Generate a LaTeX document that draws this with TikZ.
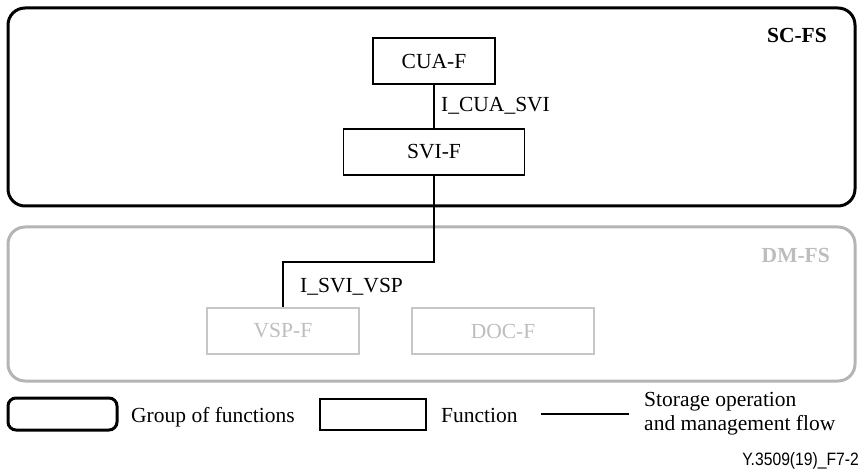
\documentclass[tikz,border=0pt]{standalone}
\usepackage{fontspec}
\setmainfont{Liberation Serif}
\newfontfamily\labelsans{Liberation Sans}
\definecolor{groupgrey}{HTML}{B4B4B4}
\definecolor{boxgrey}{HTML}{C6C6C6}
\definecolor{textgrey}{HTML}{BDBDBD}
\begin{document}
\begin{tikzpicture}[x=1pt,y=-1pt,
  every node/.style={font=\fontsize{21.5}{24}\selectfont, inner sep=0pt},
  group/.style={draw, line width=3pt, rounded corners=17pt},
  funcbox/.style={draw, line width=1.3pt},
  flow/.style={draw, line width=1.5pt},
  glabel/.style={font=\fontsize{21.5}{24}\selectfont\bfseries}
]
\useasboundingbox (0,0) rectangle (862,470);

% functional groups
\node[group, minimum width=847pt, minimum height=198pt] (sc) at (431.5,107) {};
\node[group, draw=groupgrey, minimum width=847pt, minimum height=154pt] (dm) at (431.5,304) {};
\node[glabel, anchor=base east] (sclabel) at (827,43) {SC-FS};
\node[glabel, text=textgrey, anchor=base east] (dmlabel) at (830,263) {DM-FS};

% functions
\node[funcbox, minimum width=122pt, minimum height=46pt] (cua) at (434,61) {CUA-F};
\node[funcbox, minimum width=181pt, minimum height=46pt] (svi) at (434,152) {SVI-F};
\node[funcbox, draw=boxgrey, text=textgrey, minimum width=152pt, minimum height=46pt] (vsp) at (283,331) {VSP-F};
\node[funcbox, draw=boxgrey, text=textgrey, minimum width=182pt, minimum height=46pt] (doc) at (503,331) {DOC-F};

% reference points
\coordinate (bend) at (283,262);
\draw[flow] (cua.south) -- (svi.north);
\draw[flow] (svi.south) |- (bend) -| (vsp.north);
\node[anchor=base west] (ifa) at (441,112) {I\_CUA\_SVI};
\node[anchor=base west] (ifb) at (300,293) {I\_SVI\_VSP};

% legend
\node[draw, line width=3pt, rounded corners=8pt, minimum width=109pt, minimum height=32pt] (lgroup) at (62.5,414) {};
\node[anchor=base west] (lgrouptxt) at (131,422) {Group of functions};
\node[funcbox, minimum width=106pt, minimum height=31pt] (lfunc) at (373,414.5) {};
\node[anchor=base west] (lfunctxt) at (441,422) {Function};
\coordinate (lflowa) at (541,414);
\coordinate (lflowb) at (629,414);
\draw[flow] (lflowa) -- (lflowb);
\node[anchor=west, align=left] (lflowtxt) at (644,414) {Storage operation\\and management flow};

\node[anchor=base east, font=\labelsans\fontsize{16}{18}\selectfont] (figid) at (859,465) {\scalebox{0.98}[1.12]{Y.3509(19)\_F7-2}};
\end{tikzpicture}
\end{document}
